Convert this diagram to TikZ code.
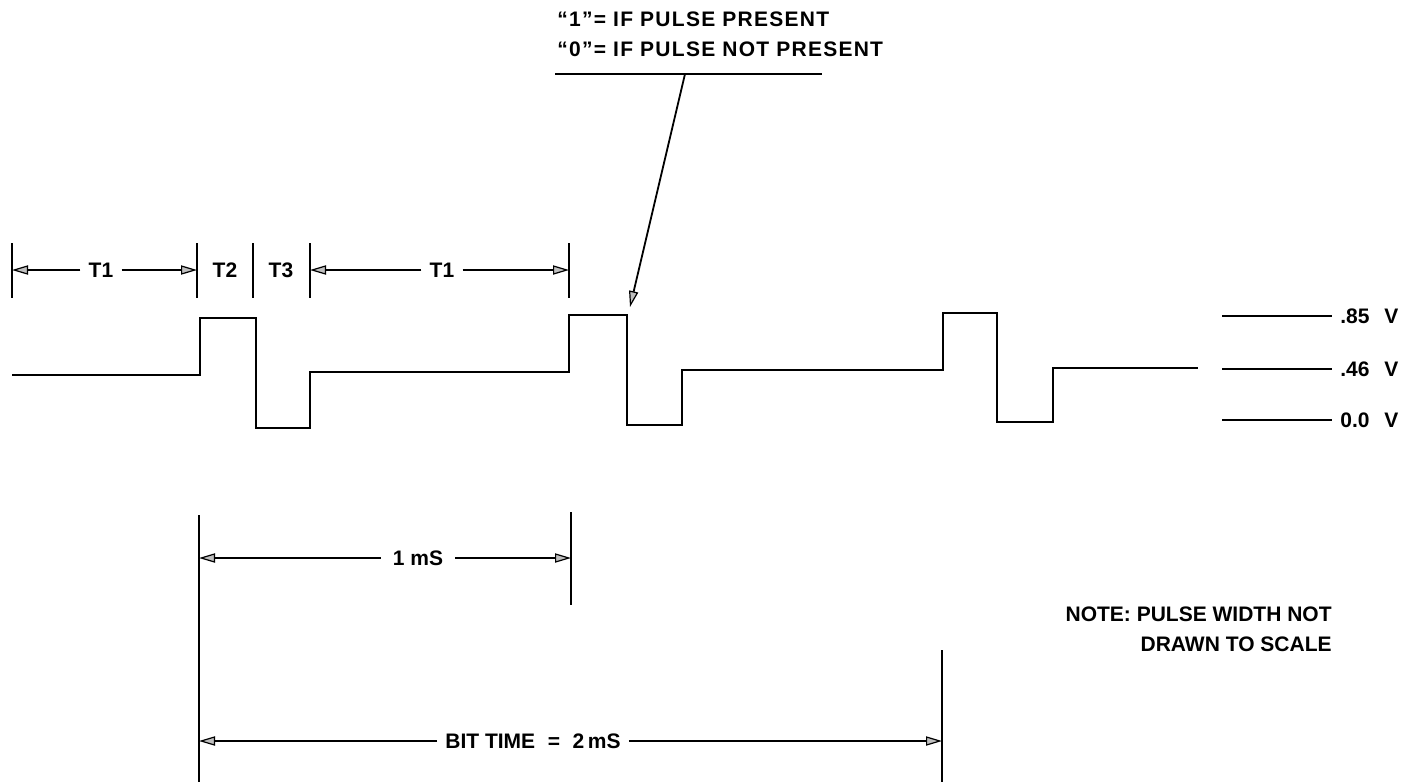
\documentclass[tikz,border=0pt]{standalone}
\usepackage{fontspec}
\setmainfont{Liberation Sans}
\usetikzlibrary{arrows.meta,positioning}
\tikzset{
  wave/.style={line width=1.2pt,line join=miter},
  tick/.style={line width=1pt},
  dim/.style={line width=0.9pt,-{Triangle[length=8pt,width=4.6pt,fill=gray!50,line width=0.6pt]}},
  lbl/.style={font=\bfseries\fontsize{10.5}{15}\selectfont,inner sep=4pt}
}

\begin{document}
\begin{tikzpicture}[x=0.5pt,y=-0.5pt]
\useasboundingbox (0,0) rectangle (1421,782);
% upper ticks
\draw[tick] (12,243) -- (12,298);
\draw[tick] (197,243) -- (197,298);
\draw[tick] (253,243) -- (253,298);
\draw[tick] (310,243) -- (310,298);
\draw[tick] (569,243) -- (569,298);
\coordinate (t0) at (12,270); \coordinate (t1) at (197,270);
\coordinate (t2) at (310,270); \coordinate (t3) at (569,270);
\node[lbl] (T1a) at (101,270) {T1};
\node[lbl] (T2) at (225,270) {T2};
\node[lbl] (T3) at (281,270) {T3};
\node[lbl] (T1b) at (442,270) {T1};
\draw[dim] (T1a) -- (t0); \draw[dim] (T1a) -- (t1);
\draw[dim] (T1b) -- (t2); \draw[dim] (T1b) -- (t3);
% waveform
\draw[wave] (12,375) -- (200,375) -- (200,318) -- (256,318) -- (256,428)
  -- (310,428) -- (310,372) -- (569,372) -- (569,315) -- (627,315)
  -- (627,425) -- (682,425) -- (682,370) -- (943,370) -- (943,313)
  -- (997,313) -- (997,422) -- (1053,422) -- (1053,368) -- (1198,368);
% levels
\node[lbl,anchor=west] (v85) at (1332,316) {.85\hspace{0.7em}V};
\node[lbl,anchor=west] (v46) at (1332,369) {.46\hspace{0.7em}V};
\node[lbl,anchor=west] (v00) at (1332,420) {0.0\hspace{0.7em}V};
\coordinate (l85) at (1222,316); \coordinate (l46) at (1222,369); \coordinate (l00) at (1222,420);
\draw[tick] (l85) -- (v85); \draw[tick] (l46) -- (v46); \draw[tick] (l00) -- (v00);
% pulse code
\node[lbl,align=left,anchor=north west,font=\bfseries\fontsize{10.5}{15}\selectfont\addfontfeature{LetterSpace=6}] (code) at (549,3) {“1”= IF PULSE PRESENT\\“0”= IF PULSE NOT PRESENT};
\coordinate (ul) at (555,74); \coordinate (ur) at (822,74);
\coordinate (up) at (685,74); \coordinate (pk) at (630,307);
\draw[tick] (ul) -- (ur);
\draw[dim] (up) -- (pk);
% 1 mS
\draw[tick] (199,515) -- (199,782);
\draw[tick] (571,512) -- (571,605);
\coordinate (m0) at (199,558); \coordinate (m1) at (571,558);
\node[lbl,inner sep=6pt] (ms) at (418,558) {1 mS};
\draw[dim] (ms) -- (m0); \draw[dim] (ms) -- (m1);
% bit time
\draw[tick] (942,650) -- (942,782);
\coordinate (b0) at (199,741); \coordinate (b1) at (942,741);
\node[lbl] (bit) at (533,741) {BIT TIME\hspace{0.6em}=\hspace{0.6em}2\,mS};
\draw[dim] (bit) -- (b0); \draw[dim] (bit) -- (b1);
% note
\node[lbl,align=right,anchor=north east] (note) at (1340,598) {NOTE: PULSE WIDTH NOT\\DRAWN TO SCALE};
\end{tikzpicture}
\end{document}
